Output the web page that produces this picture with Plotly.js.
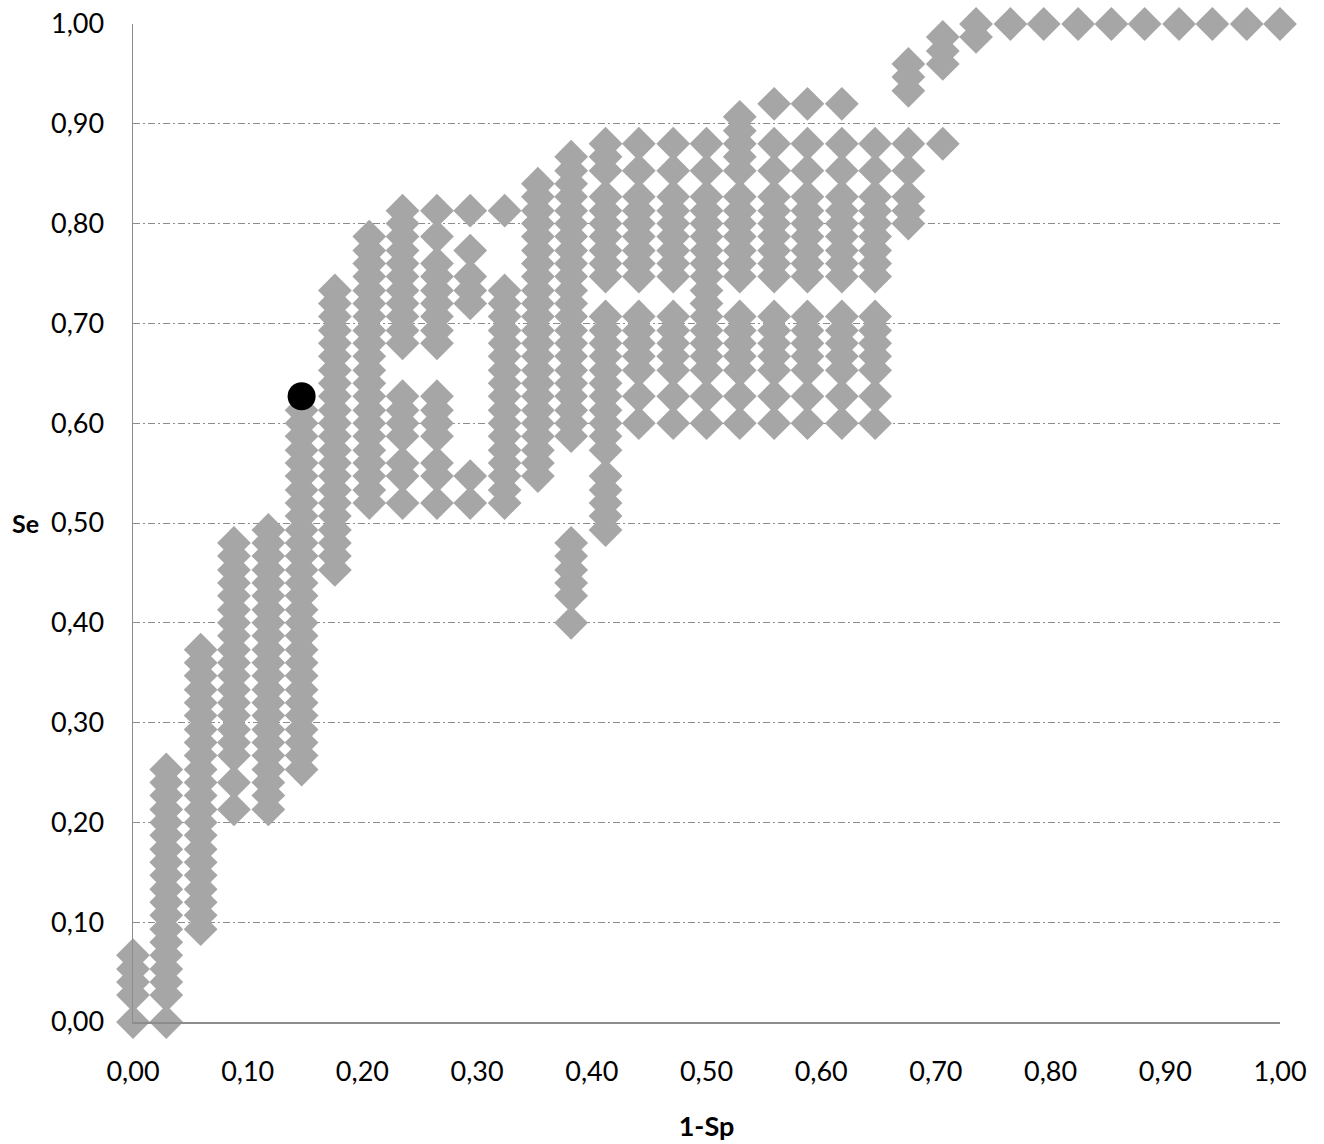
<!DOCTYPE html>
<html>
<head>
<meta charset="utf-8">
<script src="https://cdn.plot.ly/plotly-3.0.1.min.js"></script>
<style>
  html, body { margin: 0; padding: 0; background: #ffffff; }
  #chart { width: 1324px; height: 1144px; }
</style>
</head>
<body>
<div id="chart"></div>
<script>
// 1-Sp positions of the columns (false-positive fraction)
const oneMinusSp = [0.000, 0.029, 0.059, 0.088, 0.118, 0.147, 0.176, 0.206, 0.235, 0.265,
                    0.294, 0.324, 0.353, 0.382, 0.412, 0.441, 0.471, 0.500, 0.529, 0.559,
                    0.588, 0.618, 0.647, 0.676, 0.706, 0.735, 0.765, 0.794, 0.824, 0.853,
                    0.882, 0.912, 0.941, 0.971, 1.000];

// Se values observed in each column
const se00 = [0.000, 0.027, 0.040, 0.053, 0.067];
const se01 = [0.000, 0.027, 0.040, 0.053, 0.067, 0.080, 0.093, 0.107, 0.120, 0.133, 0.147, 0.160, 0.173, 0.187, 0.200, 0.213, 0.227, 0.240, 0.253];
const se02 = [0.093, 0.107, 0.120, 0.133, 0.147, 0.160, 0.173, 0.187, 0.200, 0.213, 0.227, 0.240, 0.253, 0.267, 0.280, 0.293, 0.307, 0.320, 0.333, 0.347, 0.360, 0.373];
const se03 = [0.213, 0.240, 0.267, 0.280, 0.293, 0.307, 0.320, 0.333, 0.347, 0.360, 0.373, 0.387, 0.400, 0.413, 0.427, 0.440, 0.453, 0.467, 0.480];
const se04 = [0.213, 0.227, 0.240, 0.253, 0.267, 0.280, 0.293, 0.307, 0.320, 0.333, 0.347, 0.360, 0.373, 0.387, 0.400, 0.413, 0.427, 0.440, 0.453, 0.467, 0.480, 0.493];
const se05 = [0.253, 0.267, 0.280, 0.293, 0.307, 0.320, 0.333, 0.347, 0.360, 0.373, 0.387, 0.400, 0.413, 0.427, 0.440, 0.453, 0.467, 0.480, 0.493, 0.507, 0.520, 0.533, 0.547, 0.560, 0.573, 0.587, 0.600, 0.613];
const se06 = [0.453, 0.467, 0.480, 0.493, 0.507, 0.520, 0.533, 0.547, 0.560, 0.573, 0.587, 0.600, 0.613, 0.627, 0.640, 0.653, 0.667, 0.680, 0.693, 0.707, 0.720, 0.733];
const se07 = [0.520, 0.533, 0.547, 0.560, 0.573, 0.587, 0.600, 0.613, 0.627, 0.640, 0.653, 0.667, 0.680, 0.693, 0.707, 0.720, 0.733, 0.747, 0.760, 0.773, 0.787];
const se08 = [0.520, 0.547, 0.560, 0.587, 0.600, 0.613, 0.627, 0.680, 0.693, 0.707, 0.720, 0.733, 0.747, 0.760, 0.773, 0.787, 0.800, 0.813];
const se09 = [0.520, 0.547, 0.560, 0.587, 0.600, 0.613, 0.627, 0.680, 0.693, 0.707, 0.720, 0.733, 0.747, 0.760, 0.787, 0.813];
const se10 = [0.520, 0.547, 0.720, 0.733, 0.747, 0.773, 0.813];
const se11 = [0.520, 0.533, 0.547, 0.560, 0.573, 0.587, 0.600, 0.613, 0.627, 0.640, 0.653, 0.667, 0.680, 0.693, 0.707, 0.720, 0.733, 0.813];
const se12 = [0.547, 0.560, 0.573, 0.587, 0.600, 0.613, 0.627, 0.640, 0.653, 0.667, 0.680, 0.693, 0.707, 0.720, 0.733, 0.747, 0.760, 0.773, 0.787, 0.800, 0.813, 0.827, 0.840];
const se13 = [0.400, 0.427, 0.440, 0.453, 0.467, 0.480, 0.587, 0.600, 0.613, 0.627, 0.640, 0.653, 0.667, 0.680, 0.693, 0.707, 0.720, 0.733, 0.747, 0.760, 0.773, 0.787, 0.800, 0.813, 0.827, 0.840, 0.853, 0.867];
const se14 = [0.493, 0.507, 0.520, 0.533, 0.547, 0.573, 0.587, 0.600, 0.613, 0.627, 0.640, 0.653, 0.667, 0.680, 0.693, 0.707, 0.747, 0.760, 0.773, 0.787, 0.800, 0.813, 0.827, 0.853, 0.867, 0.880];
const se15 = [0.600, 0.627, 0.653, 0.667, 0.680, 0.693, 0.707, 0.747, 0.760, 0.773, 0.787, 0.800, 0.813, 0.827, 0.853, 0.880];
const se16 = [0.600, 0.627, 0.653, 0.667, 0.680, 0.693, 0.707, 0.747, 0.760, 0.773, 0.787, 0.800, 0.813, 0.827, 0.853, 0.880];
const se17 = [0.600, 0.627, 0.653, 0.667, 0.680, 0.693, 0.707, 0.720, 0.733, 0.747, 0.760, 0.773, 0.787, 0.800, 0.813, 0.827, 0.853, 0.880];
const se18 = [0.600, 0.627, 0.653, 0.667, 0.680, 0.693, 0.707, 0.747, 0.760, 0.773, 0.787, 0.800, 0.813, 0.827, 0.853, 0.867, 0.880, 0.893, 0.907];
const se19 = [0.600, 0.627, 0.653, 0.667, 0.680, 0.693, 0.707, 0.747, 0.760, 0.773, 0.787, 0.800, 0.813, 0.827, 0.853, 0.880, 0.920];
const se20 = [0.600, 0.627, 0.653, 0.667, 0.680, 0.693, 0.707, 0.747, 0.760, 0.773, 0.787, 0.800, 0.813, 0.827, 0.853, 0.880, 0.920];
const se21 = [0.600, 0.627, 0.653, 0.667, 0.680, 0.693, 0.707, 0.747, 0.760, 0.773, 0.787, 0.800, 0.813, 0.827, 0.853, 0.880, 0.920];
const se22 = [0.600, 0.627, 0.653, 0.667, 0.680, 0.693, 0.707, 0.747, 0.760, 0.773, 0.787, 0.800, 0.813, 0.827, 0.853, 0.880];
const se23 = [0.800, 0.813, 0.827, 0.853, 0.880, 0.933, 0.947, 0.960];
const se24 = [0.880, 0.960, 0.973, 0.987];
const se25 = [0.987, 1.000];
const se26 = [1.000];
const se27 = [1.000];
const se28 = [1.000];
const se29 = [1.000];
const se30 = [1.000];
const se31 = [1.000];
const se32 = [1.000];
const se33 = [1.000];
const se34 = [1.000];

// highlighted (optimal) cut-off point
const optimalOneMinusSp = [0.147];
const optimalSe = [0.627];

// axis tick values
const tickValues = [0, 0.1, 0.2, 0.3, 0.4, 0.5, 0.6, 0.7, 0.8, 0.9, 1.0];

const seByColumn = [se00, se01, se02, se03, se04, se05, se06, se07, se08, se09,
                    se10, se11, se12, se13, se14, se15, se16, se17, se18, se19,
                    se20, se21, se22, se23, se24, se25, se26, se27, se28, se29,
                    se30, se31, se32, se33, se34];

const xs = [], ys = [];
seByColumn.forEach(function (col, i) {
  col.forEach(function (v) { xs.push(oneMinusSp[i]); ys.push(v); });
});

const FONT = 'Lato, "Open Sans", "Liberation Sans", sans-serif';

const traces = [
  {
    type: 'scatter', mode: 'markers', x: xs, y: ys,
    marker: { symbol: 'diamond', size: 26, color: '#A6A6A6', line: { width: 0 } },
    cliponaxis: false, hoverinfo: 'skip', showlegend: false
  },
  {
    type: 'scatter', mode: 'markers', x: optimalOneMinusSp, y: optimalSe,
    marker: { symbol: 'circle', size: 28, color: '#000000', line: { width: 0 } },
    cliponaxis: false, hoverinfo: 'skip', showlegend: false
  }
];

const layout = {
  width: 1324, height: 1144,
  paper_bgcolor: '#ffffff', plot_bgcolor: '#ffffff',
  margin: { l: 133, r: 44, t: 24, b: 122 },
  separators: ', ',
  showlegend: false,
  font: { family: FONT, size: 27, color: '#000000' },
  xaxis: {
    range: [0, 1], tickvals: tickValues, tickformat: '.2f',
    showgrid: false, zeroline: false,
    showline: true, linecolor: '#8C8C8C', linewidth: 1.5,
    ticks: '', ticklabelstandoff: 25,
    tickfont: { family: FONT, size: 27, color: '#000000' },
    title: { text: '1-Sp', font: { family: FONT, size: 27, color: '#000000', weight: 'bold' }, standoff: 31 },
    automargin: false
  },
  yaxis: {
    range: [0, 1], tickvals: tickValues, tickformat: '.2f',
    showgrid: true, gridcolor: '#8C8C8C', gridwidth: 1, griddash: '7px,3px,2px,3px',
    zeroline: false,
    showline: true, linecolor: '#8C8C8C', linewidth: 1.5,
    ticks: '', ticklabelstandoff: 22,
    tickfont: { family: FONT, size: 27, color: '#000000' },
    automargin: false
  },
  annotations: [
    {
      xref: 'paper', yref: 'y', x: -0.094, y: 0.5,
      text: 'Se', showarrow: false, xanchor: 'center', yanchor: 'middle',
      font: { family: FONT, size: 25, color: '#000000', weight: 'bold' }
    }
  ]
};

Plotly.newPlot('chart', traces, layout, { displayModeBar: false, staticPlot: true });
</script>
</body>
</html>
